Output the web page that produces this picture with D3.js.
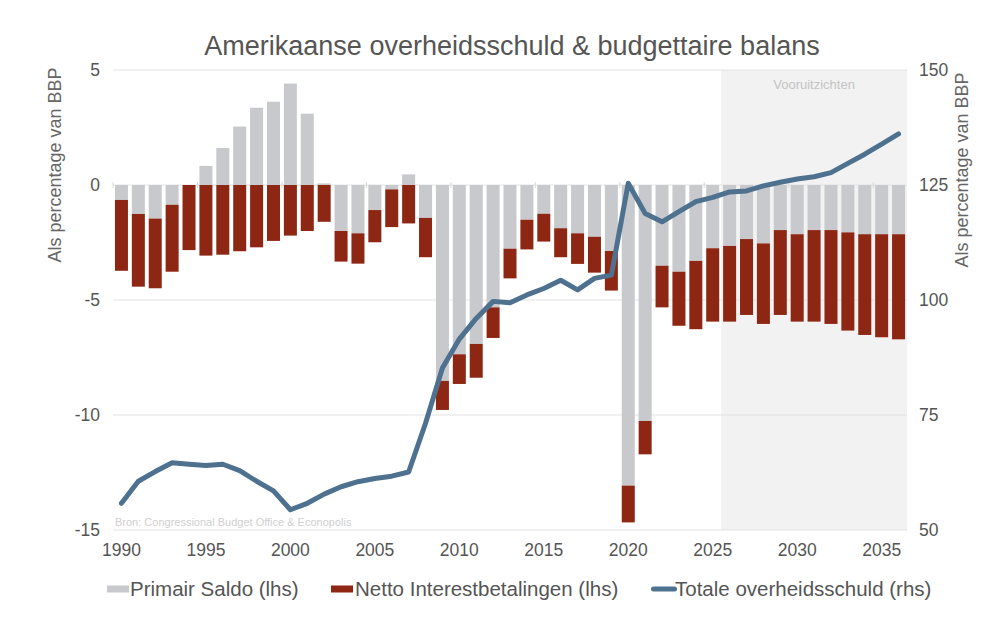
<!DOCTYPE html>
<html>
<head>
<meta charset="utf-8">
<script src="https://cdn.jsdelivr.net/npm/d3@7"></script>
<style>
  body { margin: 0; background: #fff; }
  svg { display: block; font-family: "Liberation Sans", Arial, sans-serif; }
</style>
</head>
<body>
<div id="chart"></div>
<script>
// data (% of GDP)
const years = d3.range(1990, 2037);
const primairSaldo = [
  -0.65, -1.26, -1.46, -0.86, 0.0, 0.83, 1.61, 2.54, 3.36, 3.62,
  4.41, 3.10, 0.07, -2.00, -2.10, -1.09, -0.19, 0.46, -1.43, -8.52,
  -7.36, -6.91, -5.32, -2.77, -1.51, -1.25, -1.88, -2.10, -2.25, -2.87,
  -13.07, -10.26, -3.51, -3.77, -3.30, -2.75, -2.65, -2.35, -2.54, -1.96,
  -2.14, -1.96, -1.96, -2.06, -2.14, -2.14, -2.14
];
const nettoInterest = [
  -3.08, -3.16, -3.03, -2.91, -2.83, -3.07, -3.03, -2.88, -2.71, -2.43,
  -2.20, -2.00, -1.60, -1.33, -1.32, -1.40, -1.64, -1.67, -1.71, -1.26,
  -1.29, -1.47, -1.33, -1.29, -1.29, -1.21, -1.26, -1.33, -1.56, -1.72,
  -1.60, -1.45, -1.81, -2.35, -2.97, -3.19, -3.29, -3.30, -3.50, -3.69,
  -3.80, -3.98, -4.08, -4.27, -4.38, -4.48, -4.57
];
const overheidsschuld = [
  55.8, 60.6, 62.7, 64.6, 64.3, 64.0, 64.3, 62.9, 60.6, 58.5,
  54.4, 55.8, 57.8, 59.4, 60.5, 61.2, 61.7, 62.6, 73.2, 85.2,
  91.5, 96.0, 99.7, 99.4, 101.1, 102.5, 104.3, 102.2, 104.7, 105.4,
  125.4, 118.8, 117.0, 119.2, 121.4, 122.3, 123.5, 123.7, 124.8, 125.6,
  126.3, 126.8, 127.7, 129.7, 131.7, 133.9, 136.1
];
const leftTicks = [5, 0, -5, -10, -15];
const rightTicks = [150, 125, 100, 75, 50];
const yearLabels = d3.range(1990, 2036, 5);
const forecastFrom = 2026;

const title = 'Amerikaanse overheidsschuld & budgettaire balans';
const yTitle = 'Als percentage van BBP';
const source = 'Bron: Congressional Budget Office & Econopolis';
const legendItems = [
  {label: 'Primair Saldo (lhs)', type: 'rect', color: '#c7c9cc'},
  {label: 'Netto Interestbetalingen (lhs)', type: 'rect', color: '#8e2614'},
  {label: 'Totale overheidsschuld (rhs)', type: 'line', color: '#4e7190'}
];

const rows = years.map((y, i) => ({
  year: y, primair: primairSaldo[i], interest: nettoInterest[i], schuld: overheidsschuld[i]
}));

const width = 1000, height = 623;
const margin = {t: 70, r: 93, b: 93, l: 113};
const w = width - margin.l - margin.r;
const h = height - margin.t - margin.b;

const svg = d3.select('#chart').append('svg')
  .attr('width', width)
  .attr('height', height);

// scales
const x = d3.scaleBand()
  .domain(years)
  .range([margin.l, margin.l + w])
  .paddingInner(0.23)
  .paddingOuter(0.115);
const yL = d3.scaleLinear().domain([-15, 5]).range([margin.t + h, margin.t]);
const yR = d3.scaleLinear().domain([50, 150]).range([margin.t + h, margin.t]);
const cx = d => x(d) + x.bandwidth() / 2;
const gap = x.step() - x.bandwidth();

// forecast shading
const shadeX = x(forecastFrom) - gap / 2;
svg.append('rect')
  .attr('x', shadeX)
  .attr('y', margin.t)
  .attr('width', margin.l + w - shadeX)
  .attr('height', h)
  .attr('fill', '#f2f2f2');
svg.append('text')
  .attr('x', (shadeX + margin.l + w) / 2)
  .attr('y', margin.t + 19)
  .attr('text-anchor', 'middle')
  .attr('font-size', 13)
  .attr('fill', '#c4c4c4')
  .text('Vooruitzichten');

// gridlines
svg.append('g').selectAll('line')
  .data(leftTicks)
  .join('line')
  .attr('x1', margin.l)
  .attr('x2', margin.l + w)
  .attr('y1', d => yL(d))
  .attr('y2', d => yL(d))
  .attr('stroke', '#e2e2e2')
  .attr('stroke-width', 1);

// zero axis ticks at category boundaries
svg.append('g').selectAll('line')
  .data(yearLabels)
  .join('line')
  .attr('x1', d => x(d) - gap / 2)
  .attr('x2', d => x(d) - gap / 2)
  .attr('y1', yL(0) - 3)
  .attr('y2', yL(0) + 3)
  .attr('stroke', '#d8d8d8');

// bars
const bars = svg.append('g');
bars.selectAll('.primair')
  .data(rows)
  .join('rect')
  .classed('primair', true)
  .attr('x', d => x(d.year))
  .attr('width', x.bandwidth())
  .attr('y', d => yL(Math.max(0, d.primair)))
  .attr('height', d => Math.abs(yL(d.primair) - yL(0)))
  .attr('fill', legendItems[0].color);

bars.selectAll('.interest')
  .data(rows)
  .join('rect')
  .classed('interest', true)
  .attr('x', d => x(d.year))
  .attr('width', x.bandwidth())
  .attr('y', d => yL(Math.min(0, d.primair)))
  .attr('height', d => yL(Math.min(0, d.primair) + d.interest) - yL(Math.min(0, d.primair)))
  .attr('fill', legendItems[1].color);

// debt line
const line = d3.line()
  .x(d => cx(d.year))
  .y(d => yR(d.schuld));
svg.append('path')
  .datum(rows)
  .attr('d', line)
  .attr('fill', 'none')
  .attr('stroke', legendItems[2].color)
  .attr('stroke-width', 5)
  .attr('stroke-linejoin', 'round')
  .attr('stroke-linecap', 'round');

// axis labels
svg.append('g').selectAll('text')
  .data(leftTicks)
  .join('text')
  .attr('x', margin.l - 13)
  .attr('y', d => yL(d))
  .attr('dy', '0.35em')
  .attr('text-anchor', 'end')
  .attr('font-size', 17.5)
  .attr('fill', '#555')
  .text(d => d);

svg.append('g').selectAll('text')
  .data(rightTicks)
  .join('text')
  .attr('x', margin.l + w + 12)
  .attr('y', d => yR(d))
  .attr('dy', '0.35em')
  .attr('text-anchor', 'start')
  .attr('font-size', 17.5)
  .attr('fill', '#555')
  .text(d => d);

svg.append('g').selectAll('text')
  .data(yearLabels)
  .join('text')
  .attr('x', d => cx(d))
  .attr('y', margin.t + h + 26)
  .attr('text-anchor', 'middle')
  .attr('font-size', 17.5)
  .attr('fill', '#555')
  .text(d => d);

// axis titles
svg.append('text')
  .attr('transform', `translate(61,${margin.t + 95}) rotate(-90)`)
  .attr('text-anchor', 'middle')
  .attr('font-size', 18)
  .attr('fill', '#666')
  .text(yTitle);
svg.append('text')
  .attr('transform', `translate(968,${margin.t + 100}) rotate(-90)`)
  .attr('text-anchor', 'middle')
  .attr('font-size', 18)
  .attr('fill', '#666')
  .text(yTitle);

// title
svg.append('text')
  .attr('x', 512)
  .attr('y', 55)
  .attr('text-anchor', 'middle')
  .attr('font-size', 27)
  .attr('fill', '#555')
  .text(title);

// source
svg.append('text')
  .attr('x', margin.l + 2)
  .attr('y', margin.t + h - 4)
  .attr('font-size', 11)
  .attr('fill', '#cfcfcf')
  .text(source);

// legend
const legendX = [107, 331, 651];
const legend = svg.append('g');
legendItems.forEach((item, i) => {
  const g = legend.append('g').attr('transform', `translate(${legendX[i]},589)`);
  if (item.type === 'rect') {
    g.append('rect').attr('x', 0).attr('y', -3.5).attr('width', 22).attr('height', 7).attr('fill', item.color);
  } else {
    g.append('line').attr('x1', 2.5).attr('x2', 23.5).attr('y1', 0).attr('y2', 0)
      .attr('stroke', item.color).attr('stroke-width', 5).attr('stroke-linecap', 'round');
  }
  g.append('text')
    .attr('x', i === 0 ? 23 : 24)
    .attr('dy', '0.35em')
    .attr('font-size', 20.5)
    .attr('fill', '#555')
    .text(item.label);
});
</script>
</body>
</html>
